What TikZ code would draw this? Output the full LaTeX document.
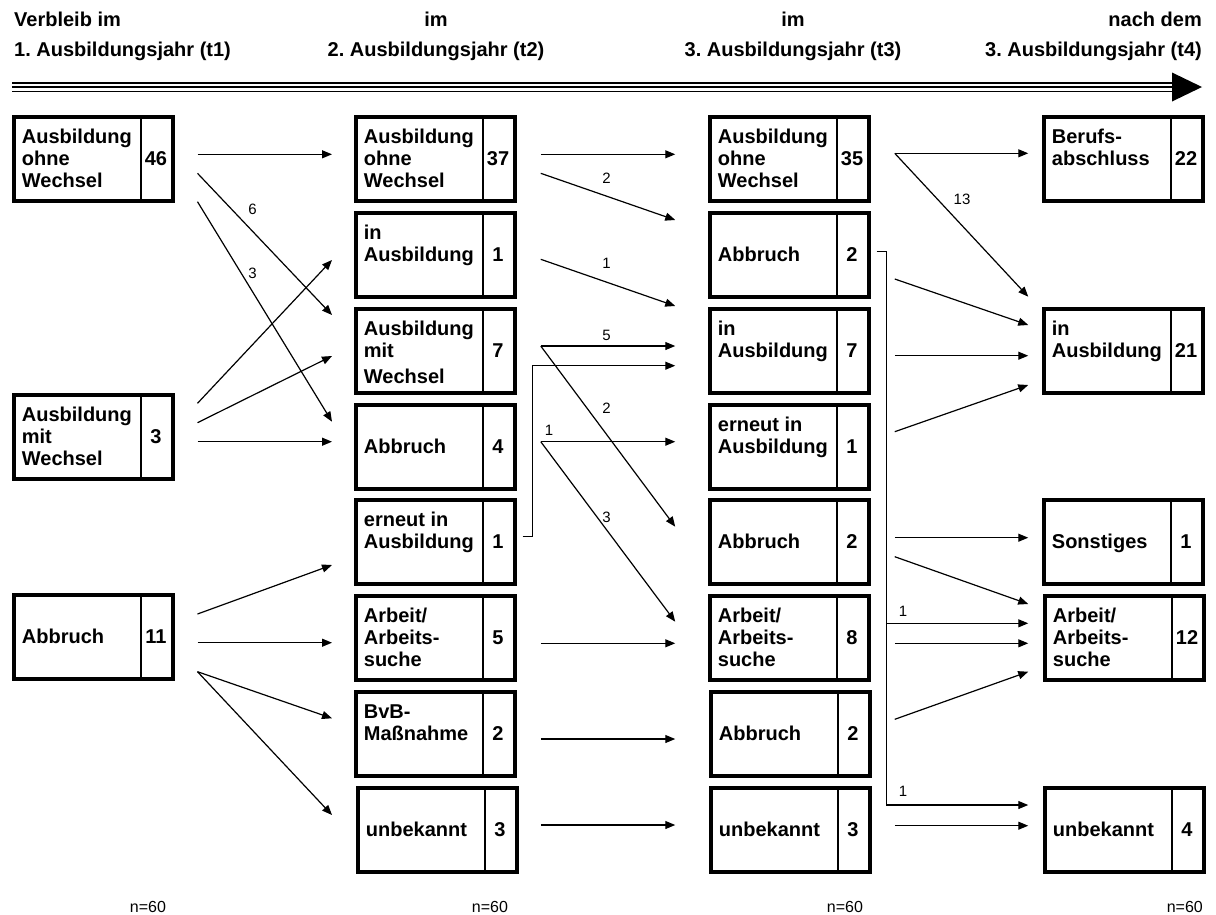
\documentclass[tikz,border=0pt]{standalone}
\usepackage{fontspec}
\setmainfont{Liberation Sans}
\usetikzlibrary{arrows.meta,calc}
\frenchspacing

\tikzset{
  box/.style={draw, line width=4pt, minimum width=159pt, minimum height=84pt,
              inner sep=0pt, outer sep=0pt},
  divider/.style={line width=1.3pt},
  lbl/.style={anchor=north west, inner sep=0pt, align=left,
              font=\fontsize{20}{22}\selectfont\bfseries},
  num/.style={anchor=base, inner sep=0pt, font=\fontsize{20}{22}\selectfont\bfseries},
  arr/.style={line width=1.2pt, -{Triangle[length=10pt,width=8pt]}},
  link/.style={line width=1.2pt},
  lab/.style={inner sep=0pt, font=\fontsize{15}{18}\selectfont},
  head/.style={inner sep=0pt, font=\fontsize{20}{24}\selectfont\bfseries},
  foot/.style={inner sep=0pt, font=\fontsize{16}{18}\selectfont},
  timeline/.style={line width=1.8pt},
}

% #1 name, #2 left edge, #3 top edge, #4 height of first line, #5 label, #6 count
\newcommand{\statbox}[6]{%
  \node[box] (#1) at (#2+81.5,#3+44) {};
  \draw[divider] ([xshift=-32pt]#1.north east) -- ([xshift=-32pt]#1.south east);
  \node[lbl] at ([xshift=7.7pt]#1.north west) {\rule{0pt}{#4pt}#5};
  \node[num] at ([xshift=-17pt,yshift=-48pt]#1.north east) {#6};
}

\begin{document}
\begin{tikzpicture}[x=1pt,y=-1pt]
\fill[white] (0,0) rectangle (1216,914);
\useasboundingbox (0,0) rectangle (1216,914);

% column headings
\node[head, anchor=base west] (h1a) at (14,26.5) {Verbleib im};
\node[head, anchor=base west] (h1b) at (14,56) {1. Ausbildungsjahr (t1)};
\node[head, anchor=base] (h2a) at (436,26.5) {im};
\node[head, anchor=base] (h2b) at (436,56) {2. Ausbildungsjahr (t2)};
\node[head, anchor=base] (h3a) at (793,26.5) {im};
\node[head, anchor=base] (h3b) at (793,56) {3. Ausbildungsjahr (t3)};
\node[head, anchor=base east] (h4a) at (1202,26.5) {nach dem};
\node[head, anchor=base east] (h4b) at (1202,56) {3. Ausbildungsjahr (t4)};

% time axis
\draw[timeline] (12,82.7) -- (1173,82.7);
\draw[timeline] (12,87) -- (1173,87);
\draw[timeline] (12,91.4) -- (1173,91.4);
\fill (1172,72.5) -- (1202,87) -- (1172,101.5) -- cycle;

% t1
\statbox{a1}{12}{115}{26}{Ausbildung\\ohne\\Wechsel}{46}
\statbox{a2}{12}{393}{26}{Ausbildung\\mit\\Wechsel}{3}
\statbox{a3}{12}{593}{48}{Abbruch}{11}

% t2
\statbox{b1}{354}{115}{26}{Ausbildung\\ohne\\Wechsel}{37}
\statbox{b2}{354}{211}{26}{in\\Ausbildung}{1}
\statbox{b3}{354}{307}{26}{Ausbildung\\mit\\[4pt]Wechsel}{7}
\statbox{b4}{354}{403}{48}{Abbruch}{4}
\statbox{b5}{354}{498}{26}{erneut in\\Ausbildung}{1}
\statbox{b6}{354}{594}{26}{Arbeit/\\Arbeits-\\suche}{5}
\statbox{b7}{354}{690}{26}{BvB-\\Maßnahme}{2}
\statbox{b8}{356}{786}{48}{unbekannt}{3}

% t3
\statbox{c1}{708}{115}{26}{Ausbildung\\ohne\\Wechsel}{35}
\statbox{c2}{708}{211}{48}{Abbruch}{2}
\statbox{c3}{708}{307}{26}{in\\Ausbildung}{7}
\statbox{c4}{708}{403}{26}{erneut in\\Ausbildung}{1}
\statbox{c5}{708}{498}{48}{Abbruch}{2}
\statbox{c6}{708}{594}{26}{Arbeit/\\Arbeits-\\suche}{8}
\statbox{c7}{709}{690}{48}{Abbruch}{2}
\statbox{c8}{709}{786}{48}{unbekannt}{3}

% t4
\statbox{d1}{1042}{115}{26}{Berufs-\\abschluss}{22}
\statbox{d2}{1042}{307}{26}{in\\Ausbildung}{21}
\statbox{d3}{1042}{498}{48}{Sonstiges}{1}
\statbox{d4}{1043}{594}{26}{Arbeit/\\Arbeits-\\suche}{12}
\statbox{d5}{1043}{786}{48}{unbekannt}{4}

% flows t1 -> t2
\draw[arr] ([shift={(24.5,-4.7)}]a1.east) -- ([shift={(-24,-4.7)}]b1.west);
\draw[arr] ([shift={(24.5,14.3)}]a1.east) -- node[lab,pos=0.41,yshift=22pt]{6} ([shift={(-24,-36)}]b3.west);
\draw[arr] ([shift={(24.5,42.7)}]a1.east) -- node[lab,pos=0.41,yshift=19pt]{3} ([shift={(-24,-25.3)}]b4.west);
\draw[arr] ([shift={(24.5,-33.7)}]a2.east) -- ([shift={(-24,5)}]b2.west);
\draw[arr] ([shift={(24.5,-14.3)}]a2.east) -- ([shift={(-24,5)}]b3.west);
\draw[arr] ([shift={(24.5,4.7)}]a2.east) -- ([shift={(-24,-5.3)}]b4.west);
\draw[arr] ([shift={(24.5,-23)}]a3.east) -- ([shift={(-24,23)}]b5.west);
\draw[arr] ([shift={(24.5,5.7)}]a3.east) -- ([shift={(-24,4.7)}]b6.west);
\draw[arr] ([shift={(24.5,34.7)}]a3.east) -- ([shift={(-24,-15.7)}]b7.west);
\draw[arr] ([shift={(24.5,34.7)}]a3.east) -- ([shift={(-26,-15)}]b8.west);

% flows t2 -> t3
\draw[arr] ([shift={(25.75,-4.7)}]b1.east) -- ([shift={(-34.75,-4.7)}]c1.west);
\draw[arr] ([shift={(25.75,14.3)}]b1.east) -- node[lab,pos=0.49,yshift=18pt]{2} ([shift={(-34.75,-35)}]c2.west);
\draw[arr] ([shift={(25.75,4.3)}]b2.east) -- node[lab,pos=0.49,yshift=19pt]{1} ([shift={(-34.75,-45)}]c3.west);
\draw[arr] ([shift={(25.75,-5)}]b3.east) -- node[lab,pos=0.49,yshift=11pt]{5} ([shift={(-34.75,-5)}]c3.west);
\draw[arr] ([shift={(25.75,-5)}]b3.east) -- node[lab,pos=0.49,yshift=26.5pt]{2} ([shift={(-34.75,-15.3)}]c5.west);
\draw[arr] ([shift={(7.5,-5.3)}]b5.east) -- ++(10,0) |- ([shift={(-34.75,14.7)}]c3.west);
\draw[arr] ([shift={(25.75,-5.3)}]b4.east) -- node[lab,pos=0.062,yshift=11pt]{1} ([shift={(-34.75,-5.3)}]c4.west);
\draw[arr] ([shift={(25.75,-5.3)}]b4.east) -- node[lab,pos=0.49,yshift=13pt]{3} ([shift={(-34.75,-16.3)}]c6.west);
\draw[arr] ([shift={(25.75,5.3)}]b6.east) -- ([shift={(-34.75,5.3)}]c6.west);
\draw[arr] ([shift={(25.75,5)}]b7.east) -- ([shift={(-35.75,5)}]c7.west);
\draw[arr] ([shift={(23.75,-5)}]b8.east) -- ([shift={(-35.75,-5)}]c8.west);

% flows t3 -> t4
\draw[arr] ([shift={(25.75,-5.7)}]c1.east) -- ([shift={(-15.75,-5.7)}]d1.west);
\draw[arr] ([shift={(25.75,-5.7)}]c1.east) -- node[lab,pos=0.504,yshift=26.6pt]{13} ([shift={(-15.75,-54.3)}]d2.west);
\coordinate (bx) at ([shift={(17.5,-3.3)}]c2.east);
\coordinate (d4in) at ([shift={(-16.75,-14.7)}]d4.west);
\coordinate (d5in) at ([shift={(-16.75,-25)}]d5.west);
\draw[arr] ([shift={(7.5,-3.3)}]c2.east) -- (bx) |- (d5in);
\draw[arr] (bx |- d4in) -- node[lab,pos=0.117,yshift=11.6pt]{1} (d4in);
\path (bx |- d5in) -- node[lab,pos=0.117,yshift=14pt]{1} (d5in);
\draw[arr] ([shift={(25.75,24)}]c2.east) -- ([shift={(-15.75,-26)}]d2.west);
\draw[arr] ([shift={(25.75,4.7)}]c3.east) -- ([shift={(-15.75,4.7)}]d2.west);
\draw[arr] ([shift={(25.75,-15.3)}]c4.east) -- ([shift={(-15.75,34)}]d2.west);
\draw[arr] ([shift={(25.75,-4.3)}]c5.east) -- ([shift={(-15.75,-4.3)}]d3.west);
\draw[arr] ([shift={(25.75,14.7)}]c5.east) -- ([shift={(-16.75,-34)}]d4.west);
\draw[arr] ([shift={(25.75,5.3)}]c6.east) -- ([shift={(-16.75,5.3)}]d4.west);
\draw[arr] ([shift={(24.75,-14.7)}]c7.east) -- ([shift={(-16.75,33.7)}]d4.west);
\draw[arr] ([shift={(24.75,-4.3)}]c8.east) -- ([shift={(-16.75,-4.3)}]d5.west);

% sample sizes
\node[foot, anchor=base] (n1) at (148,912) {n=60};
\node[foot, anchor=base] (n2) at (490,912) {n=60};
\node[foot, anchor=base] (n3) at (845,912) {n=60};
\node[foot, anchor=base east] (n4) at (1203,912) {n=60};
\end{tikzpicture}
\end{document}
